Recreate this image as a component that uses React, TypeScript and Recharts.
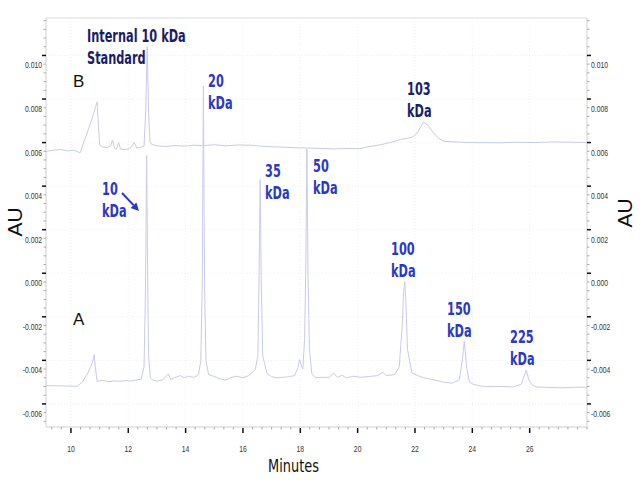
import React from "react";
import { LineChart, Line, XAxis, YAxis, ReferenceLine } from "recharts";

// ---- Data (minutes, AU) ----
const traceA_x = [9.13, 9.5, 9.9, 10.21, 10.4, 10.6, 10.75, 10.81, 10.86, 10.91, 11.1, 11.3, 11.5, 11.7, 11.9, 12.1, 12.3, 12.45, 12.55, 12.6, 12.64, 12.68, 12.71, 12.77, 12.85, 13.0, 13.2, 13.4, 13.48, 13.6, 13.81, 13.95, 14.1, 14.3, 14.45, 14.53, 14.58, 14.62, 14.66, 14.71, 14.8, 14.97, 15.2, 15.4, 15.6, 15.79, 16.0, 16.2, 16.43, 16.52, 16.56, 16.6, 16.64, 16.69, 16.84, 17.0, 17.2, 17.4, 17.6, 17.8, 17.93, 17.97, 18.05, 18.09, 18.15, 18.19, 18.23, 18.27, 18.32, 18.4, 18.52, 18.8, 19.0, 19.16, 19.3, 19.45, 19.6, 19.86, 20.1, 20.4, 20.7, 20.88, 21.0, 21.3, 21.45, 21.55, 21.6, 21.64, 21.68, 21.74, 21.89, 22.1, 22.3, 22.6, 23.0, 23.3, 23.55, 23.65, 23.72, 23.8, 23.9, 24.04, 24.3, 24.51, 24.8, 25.1, 25.44, 25.7, 25.8, 25.88, 25.97, 26.1, 26.25, 26.6, 27.07, 27.5, 28.0];
const traceA_y = [-0.00516, -0.00517, -0.00518, -0.00519, -0.005, -0.00455, -0.0041, -0.00373, -0.0044, -0.00496, -0.00492, -0.00498, -0.00494, -0.00496, -0.00493, -0.00495, -0.0049, -0.00486, -0.0043, -0.0008, 0.00541, -0.0006, -0.0038, -0.0048, -0.0049, -0.00495, -0.0049, -0.00462, -0.00488, -0.0048, -0.0047, -0.0048, -0.00473, -0.00478, -0.00465, -0.004, -0.0005, 0.0086, -0.0005, -0.004, -0.00465, -0.00473, -0.00485, -0.0049, -0.00478, -0.00473, -0.0048, -0.0047, -0.00442, -0.0038, -0.0005, 0.0043, -0.0005, -0.0038, -0.0046, -0.00475, -0.0048, -0.00478, -0.00475, -0.0047, -0.0043, -0.00396, -0.0043, -0.00439, -0.003, 0.0, 0.0057, -0.0002, -0.0035, -0.0046, -0.00479, -0.00478, -0.00478, -0.00458, -0.00478, -0.00468, -0.0048, -0.00473, -0.00478, -0.00474, -0.0047, -0.00455, -0.0047, -0.00465, -0.0043, -0.0025, -0.001, -0.00037, -0.0012, -0.0035, -0.00458, -0.0047, -0.0048, -0.00488, -0.005, -0.00505, -0.0049, -0.004, -0.00312, -0.0043, -0.005, -0.0051, -0.00518, -0.00521, -0.0052, -0.0052, -0.00522, -0.0051, -0.00475, -0.00445, -0.0049, -0.00515, -0.00522, -0.00524, -0.00526, -0.00524, -0.00523];

const traceB_x = [9.13, 9.4, 9.63, 9.9, 10.1, 10.32, 10.5, 10.73, 10.85, 10.91, 10.96, 11.0, 11.1, 11.26, 11.38, 11.45, 11.52, 11.58, 11.66, 11.73, 11.89, 12.05, 12.21, 12.3, 12.42, 12.55, 12.61, 12.66, 12.71, 12.76, 12.83, 13.0, 13.3, 13.6, 14.0, 14.3, 14.6, 15.0, 15.4, 15.8, 16.37, 16.8, 17.2, 17.75, 18.0, 18.5, 19.16, 19.6, 20.09, 20.32, 20.8, 21.2, 21.49, 21.75, 21.95, 22.1, 22.3, 22.45, 22.65, 22.8, 23.0, 23.5, 24.0, 24.97, 25.5, 26.2, 26.8, 27.3, 28.0];
const traceB_y = [0.0056, 0.00565, 0.00568, 0.00562, 0.00565, 0.00553, 0.0062, 0.00706, 0.0076, 0.00786, 0.0068, 0.00591, 0.0058, 0.00577, 0.00585, 0.00612, 0.00575, 0.00568, 0.006, 0.0057, 0.00568, 0.00572, 0.006, 0.00575, 0.00577, 0.00585, 0.0075, 0.0104, 0.0073, 0.006, 0.00591, 0.00585, 0.00582, 0.00586, 0.00584, 0.00588, 0.00586, 0.0059, 0.00585, 0.00589, 0.00587, 0.00582, 0.0058, 0.00577, 0.00576, 0.00574, 0.00571, 0.00573, 0.00572, 0.0058, 0.0059, 0.00602, 0.00614, 0.0062, 0.00627, 0.0065, 0.00694, 0.0068, 0.00645, 0.00622, 0.00606, 0.00602, 0.006, 0.00599, 0.00601, 0.006, 0.00603, 0.00602, 0.006];

const xMajorTicks = [10, 12, 14, 16, 18, 20, 22, 24, 26];
const yMajorTicks = [-0.006, -0.004, -0.002, 0, 0.002, 0.004, 0.006, 0.008, 0.01];
const X_DOMAIN: [number, number] = [9.13, 28.0];
const Y_DOMAIN: [number, number] = [-0.00706, 0.01172];

const dataA = traceA_x.map((x, i) => ({ x, y: traceA_y[i] }));
const dataB = traceB_x.map((x, i) => ({ x, y: traceB_y[i] }));

// minor tick positions (axis decoration)
const r6 = (v: number) => Math.round(v * 1e6) / 1e6;
const xMinorTicks: number[] = [];
for (let k = 0; k <= 60; k++) {
  const v = r6(9 + k / 3);
  if (v >= X_DOMAIN[0] && v <= X_DOMAIN[1]) xMinorTicks.push(v);
}
const yMinorTicks: number[] = [];
for (let k = -20; k <= 32; k++) {
  const v = r6(k * 0.0004);
  if (v >= Y_DOMAIN[0] && v <= Y_DOMAIN[1]) yMinorTicks.push(v);
}
const isMajor = (v: number, majors: number[]) => majors.some((m) => Math.abs(m - v) < 1e-7);

const TICK_FONT = "'Liberation Sans Narrow', 'Liberation Sans', Arial, sans-serif";
const LABEL_FONT = "'DejaVu Sans Condensed', 'DejaVu Sans', sans-serif";
const LINE_COLOR = "#c8cbec";
const BLUE = "#2a38c8";
const NAVY = "#1c1c68";

const TickText = ({ x, y, anchor, children }: any) => (
  <g transform={`translate(${x},${y}) scale(0.8,1)`}>
    <text x={0} y={0} textAnchor={anchor} fontSize={8.5} fontFamily={TICK_FONT} fill="#333">
      {children}
    </text>
  </g>
);

const XTick = (props: any) => {
  const { x, y, payload } = props;
  const major = isMajor(payload.value, xMajorTicks);
  return (
    <g>
      {major ? (
        <>
          <line x1={x} x2={x} y1={y + 1} y2={y + 6} stroke="#111" strokeWidth={1.5} />
          <TickText x={x} y={y + 25} anchor="middle">{payload.value}</TickText>
        </>
      ) : (
        <line x1={x} x2={x} y1={y} y2={y + 2.5} stroke="#aaa" strokeWidth={1} />
      )}
    </g>
  );
};

const YTickLeft = (props: any) => {
  const { x, y, payload } = props;
  const major = isMajor(payload.value, yMajorTicks);
  return (
    <g>
      {major ? (
        <>
          <line x1={x - 4} x2={x} y1={y} y2={y} stroke="#111" strokeWidth={1.5} />
          <TickText x={x - 4} y={y + 13} anchor="end">{Number(payload.value).toFixed(3)}</TickText>
        </>
      ) : (
        <line x1={x - 2.5} x2={x} y1={y} y2={y} stroke="#aaa" strokeWidth={1} />
      )}
    </g>
  );
};

const YTickRight = (props: any) => {
  const { x, y, payload } = props;
  const major = isMajor(payload.value, yMajorTicks);
  return (
    <g>
      {major ? (
        <>
          <line x1={x} x2={x + 4} y1={y} y2={y} stroke="#111" strokeWidth={1.5} />
          <TickText x={x + 4} y={y + 13} anchor="start">{Number(payload.value).toFixed(3)}</TickText>
        </>
      ) : (
        <line x1={x} x2={x + 2.5} y1={y} y2={y} stroke="#aaa" strokeWidth={1} />
      )}
    </g>
  );
};

type Ann = { lines: string[]; x: number; y: number; color: string };
const annotations: Ann[] = [
  { lines: ["Internal 10 kDa", "Standard"], x: 87, y: 42, color: NAVY },
  { lines: ["10", "kDa"], x: 102, y: 195, color: BLUE },
  { lines: ["20", "kDa"], x: 208, y: 87, color: BLUE },
  { lines: ["35", "kDa"], x: 265, y: 177, color: BLUE },
  { lines: ["50", "kDa"], x: 313, y: 172, color: BLUE },
  { lines: ["103", "kDa"], x: 407, y: 95, color: NAVY },
  { lines: ["100", "kDa"], x: 391, y: 255, color: BLUE },
  { lines: ["150", "kDa"], x: 447, y: 315, color: BLUE },
  { lines: ["225", "kDa"], x: 510, y: 343, color: BLUE },
];

const Overlay = () => {
  const ax1 = 122, ay1 = 193, ax2 = 139, ay2 = 211;
  const ang = Math.atan2(ay2 - ay1, ax2 - ax1);
  const hl = 8, hw = 4;
  const bx = ax2 - hl * Math.cos(ang), by = ay2 - hl * Math.sin(ang);
  const p1 = `${ax2},${ay2}`;
  const p2 = `${bx + hw * Math.sin(ang)},${by - hw * Math.cos(ang)}`;
  const p3 = `${bx - hw * Math.sin(ang)},${by + hw * Math.cos(ang)}`;
  return (
    <svg width={640} height={483} style={{ position: "absolute", left: 0, top: 0, pointerEvents: "none" }}>
      {annotations.map((a, i) => (
        <g key={i} transform={`translate(${a.x},${a.y}) scale(0.7,1)`}>
          <text x={0} y={0} fontFamily={LABEL_FONT} fontSize={18} fontWeight={600} fill={a.color}>
            {a.lines.map((l, j) => (
              <tspan key={j} x={0} dy={j === 0 ? 0 : 22.5}>
                {l}
              </tspan>
            ))}
          </text>
        </g>
      ))}
      <text x={73} y={87} fontFamily="'Liberation Sans', Arial, sans-serif" fontSize={17} fill="#111">B</text>
      <text x={73} y={325} fontFamily="'Liberation Sans', Arial, sans-serif" fontSize={17} fill="#111">A</text>
      <line x1={ax1} y1={ay1} x2={bx} y2={by} stroke={BLUE} strokeWidth={2} />
      <polygon points={`${p1} ${p2} ${p3}`} fill={BLUE} />
      <text transform="translate(22,222) rotate(-90)" textAnchor="middle" fontFamily="'Liberation Sans', Arial, sans-serif" fontSize={21} fill="#111">AU</text>
      <text transform="translate(632,213) rotate(-90)" textAnchor="middle" fontFamily="'Liberation Sans', Arial, sans-serif" fontSize={21} fill="#111">AU</text>
      <g transform="translate(293.5,472) scale(0.82,1)">
        <text x={0} y={0} textAnchor="middle" fontFamily={LABEL_FONT} fontSize={17.5} fill="#111">Minutes</text>
      </g>
    </svg>
  );
};

export default function App() {
  return (
    <div style={{ position: "absolute", left: 0, top: 0, width: 640, height: 483, background: "#fff" }}>
      <LineChart width={640} height={483} margin={{ top: 18, right: 0, bottom: 0, left: 0 }}>
        <XAxis
          type="number"
          dataKey="x"
          domain={X_DOMAIN}
          allowDataOverflow
          ticks={xMinorTicks}
          interval={0}
          tickSize={0}
          tickMargin={0}
          tickLine={false}
          height={56}
          axisLine={{ stroke: "#cfcfcf" }}
          tick={<XTick />}
        />
        <YAxis
          yAxisId="left"
          orientation="left"
          type="number"
          domain={Y_DOMAIN}
          allowDataOverflow
          ticks={yMinorTicks}
          interval={0}
          tickSize={0}
          tickMargin={0}
          tickLine={false}
          width={46}
          axisLine={{ stroke: "#cfcfcf" }}
          tick={<YTickLeft />}
        />
        <YAxis
          yAxisId="right"
          orientation="right"
          type="number"
          domain={Y_DOMAIN}
          allowDataOverflow
          ticks={yMinorTicks}
          interval={0}
          tickSize={0}
          tickMargin={0}
          tickLine={false}
          width={53}
          axisLine={{ stroke: "#cfcfcf" }}
          tick={<YTickRight />}
        />
        {xMajorTicks.map((v) => (
          <ReferenceLine key={"gx" + v} x={v} yAxisId="left" stroke="#efeff4" strokeDasharray="1 2" />
        ))}
        {yMajorTicks.map((v) => (
          <ReferenceLine key={"gy" + v} y={v} yAxisId="left" stroke="#efeff4" strokeDasharray="1 2" />
        ))}
        <ReferenceLine y={Y_DOMAIN[1]} yAxisId="left" stroke="#dcdcdc" />
        <Line data={dataB} yAxisId="left" dataKey="y" type="linear" dot={false} stroke={LINE_COLOR} strokeWidth={1} isAnimationActive={false} />
        <Line data={dataA} yAxisId="left" dataKey="y" type="linear" dot={false} stroke={LINE_COLOR} strokeWidth={1} isAnimationActive={false} />
      </LineChart>
      <Overlay />
    </div>
  );
}
